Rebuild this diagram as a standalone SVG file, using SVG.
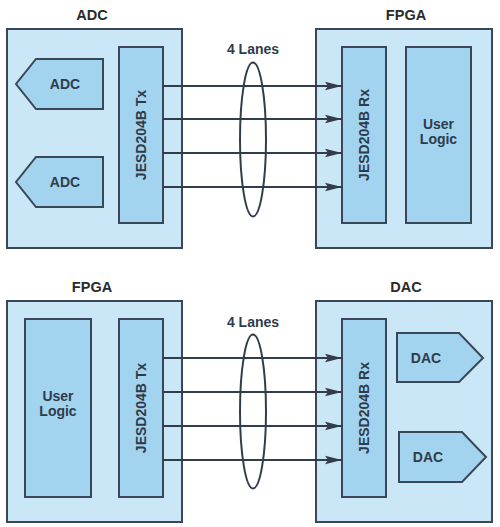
<svg xmlns="http://www.w3.org/2000/svg" width="500" height="527" viewBox="0 0 500 527">
<defs>
<style>
.outer{fill:#c9e7f6;stroke:#3b4656;stroke-width:2}
.inner{fill:#a3d4ef;stroke:#3b4656;stroke-width:2}
.t{font-family:"Liberation Sans",Arial,sans-serif;font-weight:bold;font-size:14px;fill:#2f3b4b;text-anchor:middle}
.title{font-family:"Liberation Sans",Arial,sans-serif;font-weight:bold;font-size:14.5px;fill:#2b2b2b;text-anchor:middle}
.lane{stroke:#333d4a;stroke-width:2;fill:none}
.ell{stroke:#333d4a;stroke-width:2;fill:none}
</style>
<marker id="ah" markerUnits="userSpaceOnUse" markerWidth="18" markerHeight="10" refX="17" refY="5" orient="auto">
<path d="M0,0.8 L17,5 L0,9.2 L3,5 Z" fill="#333d4a"/>
</marker>
</defs>

<g id="adc-block">
<text class="title" x="92" y="20">ADC</text>
<rect class="outer" x="7" y="29" width="175" height="219"/>
</g>
<g id="adc-1">
<polygon class="inner" points="36,59 103,59 103,109 36,109 16,84"/>
<text class="t" x="65" y="89">ADC</text>
</g>
<g id="adc-2">
<polygon class="inner" points="36,157 103,157 103,207 36,207 16,182"/>
<text class="t" x="65" y="187">ADC</text>
</g>
<g id="jesd-tx-top">
<rect class="inner" x="119" y="47" width="44" height="176"/>
<text class="t" transform="translate(146,135) rotate(-90)">JESD204B Tx</text>
</g>

<g id="fpga-top">
<text class="title" x="406" y="20">FPGA</text>
<rect class="outer" x="316" y="29" width="176" height="219"/>
</g>
<g id="jesd-rx-top">
<rect class="inner" x="342" y="47" width="44" height="176"/>
<text class="t" transform="translate(369,135) rotate(-90)">JESD204B Rx</text>
</g>
<g id="user-logic-top">
<rect class="inner" x="406" y="47" width="65" height="176"/>
<text class="t" x="438.5" y="129">User</text>
<text class="t" x="438.5" y="144">Logic</text>
</g>

<g id="fpga-bottom">
<text class="title" x="92" y="292">FPGA</text>
<rect class="outer" x="7" y="301" width="175" height="221"/>
</g>
<g id="user-logic-bottom">
<rect class="inner" x="25" y="319" width="66" height="178"/>
<text class="t" x="58" y="401">User</text>
<text class="t" x="58" y="416">Logic</text>
</g>
<g id="jesd-tx-bottom">
<rect class="inner" x="119" y="319" width="44" height="178"/>
<text class="t" transform="translate(146,408) rotate(-90)">JESD204B Tx</text>
</g>

<g id="dac-block">
<text class="title" x="406" y="292">DAC</text>
<rect class="outer" x="316" y="301" width="176" height="221"/>
</g>
<g id="jesd-rx-bottom">
<rect class="inner" x="342" y="319" width="44" height="178"/>
<text class="t" transform="translate(369,408) rotate(-90)">JESD204B Rx</text>
</g>
<g id="dac-1">
<polygon class="inner" points="397,333 459,333 483,358 459,382 397,382"/>
<text class="t" x="426" y="363">DAC</text>
</g>
<g id="dac-2">
<polygon class="inner" points="399,432 462,432 486,457 462,482 399,482"/>
<text class="t" x="428" y="462">DAC</text>
</g>

<g id="connectors">
<line class="lane" x1="163" y1="86" x2="342" y2="86" marker-end="url(#ah)"/>
<line class="lane" x1="163" y1="119" x2="342" y2="119" marker-end="url(#ah)"/>
<line class="lane" x1="163" y1="153" x2="342" y2="153" marker-end="url(#ah)"/>
<line class="lane" x1="163" y1="187" x2="342" y2="187" marker-end="url(#ah)"/>
<ellipse class="ell" cx="253" cy="139.5" rx="13" ry="77"/>
<text class="t" x="253" y="54">4 Lanes</text>

<line class="lane" x1="163" y1="358" x2="342" y2="358" marker-end="url(#ah)"/>
<line class="lane" x1="163" y1="392" x2="342" y2="392" marker-end="url(#ah)"/>
<line class="lane" x1="163" y1="426" x2="342" y2="426" marker-end="url(#ah)"/>
<line class="lane" x1="163" y1="460" x2="342" y2="460" marker-end="url(#ah)"/>
<ellipse class="ell" cx="253" cy="411.5" rx="13" ry="77"/>
<text class="t" x="253" y="327">4 Lanes</text>
</g>
</svg>
